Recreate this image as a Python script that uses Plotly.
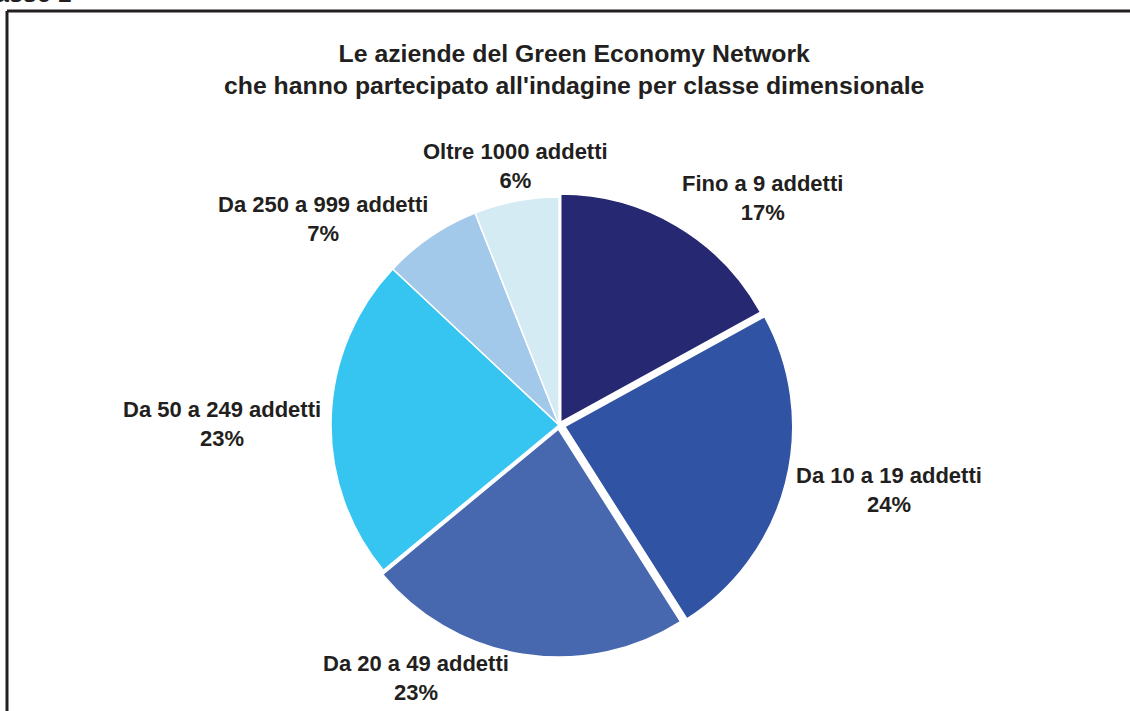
import plotly.graph_objects as go

# ---- data ----
categories = ["Fino a 9 addetti", "Da 10 a 19 addetti", "Da 20 a 49 addetti",
              "Da 50 a 249 addetti", "Da 250 a 999 addetti", "Oltre 1000 addetti"]
shares = [17, 24, 23, 23, 7, 6]
title_lines = ["Le aziende del Green Economy Network",
               "che hanno partecipato all'indagine per classe dimensionale"]

# ---- styles ----
colors = ["#262872", "#3153A4", "#4767AE", "#36C5F0", "#A2C8EA", "#D4EBF3"]
pulls = [0.015, 0.026, 0.018, 0, 0, 0]
# label anchor positions in pixels (x, y) for each category
label_pos = [(762, 198), (889, 490), (416, 678), (222, 424), (323, 219), (515, 166)]

W, H = 1130, 711
FONT = "Liberation Sans, Arial, sans-serif"
TXT = "#231F20"

# pie geometry (pixels)
cx, cy, r = 559, 425, 228
half = r * (1 + max(pulls))

fig = go.Figure(go.Pie(
    labels=categories,
    values=shares,
    sort=False,
    direction="clockwise",
    rotation=0,
    pull=pulls,
    marker=dict(colors=colors, line=dict(color="white", width=1.5)),
    textinfo="none",
    hoverinfo="label+percent",
    showlegend=False,
    domain=dict(x=[(cx - half) / W, (cx + half) / W],
                y=[(H - cy - half) / H, (H - cy + half) / H]),
))

annotations = []
for cat, val, (px, py) in zip(categories, shares, label_pos):
    annotations.append(dict(
        text=f"{cat}<br>{val}%", x=px / W, y=1 - py / H, xref="paper", yref="paper",
        xanchor="center", yanchor="middle", showarrow=False, align="center",
        font=dict(family=FONT, size=22, color=TXT, weight="bold")))

annotations.append(dict(
    text="<br>".join(title_lines), x=574 / W, y=1 - 69 / H, xref="paper", yref="paper",
    xanchor="center", yanchor="middle", showarrow=False, align="center",
    font=dict(family=FONT, size=24.8, color=TXT, weight="bold")))

# cropped heading at top-left corner
annotations.append(dict(
    text="Classe 1", x=74 / W, y=1 - 9 / H, xref="paper", yref="paper",
    xanchor="right", yanchor="bottom", showarrow=False,
    font=dict(family=FONT, size=25, color=TXT, weight="bold")))

shapes = [
    dict(type="line", xref="paper", yref="paper", x0=7 / W, x1=7 / W, y0=1 - 11 / H, y1=-0.01,
         line=dict(color=TXT, width=3)),
    dict(type="line", xref="paper", yref="paper", x0=7 / W, x1=1.01, y0=1 - 11 / H, y1=1 - 11 / H,
         line=dict(color=TXT, width=3)),
]

fig.update_layout(
    width=W, height=H,
    margin=dict(l=0, r=0, t=0, b=0),
    paper_bgcolor="white", plot_bgcolor="white",
    annotations=annotations, shapes=shapes,
)

fig.write_html("out.html", config={"displayModeBar": False},
               post_script="document.body.style.margin='0';document.body.style.overflow='hidden';")
